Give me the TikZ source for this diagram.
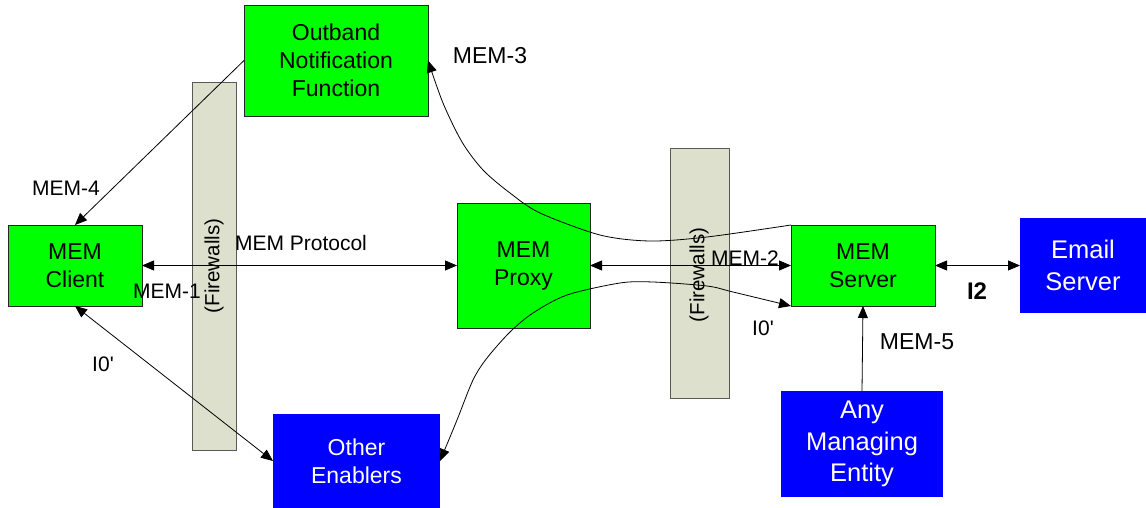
\documentclass[tikz,border=0pt]{standalone}
\usepackage{fontspec}
\setmainfont{Liberation Sans}
\usetikzlibrary{arrows.meta}
\definecolor{fwfill}{RGB}{221,224,204}
\definecolor{memgreen}{RGB}{0,255,0}
\definecolor{memblue}{RGB}{0,0,255}
\tikzset{
  box/.style={inner sep=0pt, outer sep=0pt, align=center, font=\fontsize{23}{28}\selectfont},
  greenbox/.style={box, fill=memgreen, draw=black!85, line width=0.8pt},
  bluebox/.style={box, fill=memblue, text=white},
  bigbluebox/.style={bluebox, font=\fontsize{25.5}{31.5}\selectfont},
  fwall/.style={inner sep=0pt, outer sep=0pt, fill=fwfill, draw=black!65, line width=0.8pt},
  fwtext/.style={rotate=90, font=\fontsize{20.5}{24}\selectfont},
  lbl/.style={font=\fontsize{21}{24}\selectfont, inner sep=0pt},
  biglbl/.style={font=\fontsize{23}{26}\selectfont, inner sep=0pt},
  conn/.style={line width=0.8pt, black},
  tip/.style={-{Triangle[length=12pt,width=10pt]}},
  tips/.style={{Triangle[length=12pt,width=10pt]}-{Triangle[length=12pt,width=10pt]}}
}
\begin{document}
\begin{tikzpicture}[x=1pt,y=-1pt]
\useasboundingbox (0,0) rectangle (1146,508);
% firewalls
\node[fwall, minimum width=44pt, minimum height=368pt] (fw1) at (214,266) {};
\node[fwtext] (fw1t) at (214,266) {(Firewalls)};
\node[fwall, minimum width=59pt, minimum height=250pt] (fw2) at (699.5,273) {};
\node[fwtext] (fw2t) at (699,275) {(Firewalls)};
% boxes
\node[greenbox, minimum width=184pt, minimum height=111pt] (outband) at (336,60.5) {Outband\\Notification\\Function};
\node[greenbox, minimum width=134pt, minimum height=81pt] (client) at (75,265.5) {MEM\\Client};
\node[greenbox, minimum width=133pt, minimum height=125pt] (proxy) at (523.5,265.5) {MEM\\Proxy};
\node[greenbox, minimum width=144pt, minimum height=81pt] (server) at (863,265.5) {MEM\\Server};
\node[bigbluebox, minimum width=126pt, minimum height=95pt] (email) at (1083,265.5) {Email\\Server};
\node[bigbluebox, minimum width=162pt, minimum height=106pt] (managing) at (862,444) {Any\\Managing\\Entity};
\node[bluebox, minimum width=167pt, minimum height=94pt] (other) at (356.5,461) {Other\\Enablers};
% connectors
\draw[conn, tip] (outband.west) -- (client.north);
\draw[conn, tips] (client.south) -- (other.west);
\draw[conn, tips] (client.east) -- (proxy.west);
\draw[conn, tips] (proxy.east) -- (server.west);
\draw[conn, tips] (server.east) -- (email.west);
\draw[conn, tip] (managing.north) -- (server.south);
\draw[conn, tip] plot[smooth, tension=0.5] coordinates {(server.north west) (707,237) (650,241) (600,235) (540,213) (510,193) (483,170) (462,142) (443,103) (outband.east)};
\draw[conn, tips] plot[smooth, tension=0.5] coordinates {(other.east) (457,420) (473,380) (487,358) (510,332) (533,313) (567,295) (620,283) (653,282) (707,286) (733,292) (server.south west)};
% labels
\node[biglbl] (l3) at (490,56) {MEM-3};
\node[lbl] (l4) at (66,188) {MEM-4};
\node[lbl] (l1) at (167,291) {MEM-1};
\node[lbl] (lp) at (301,243) {MEM Protocol};
\node[lbl] (l2) at (745,258) {MEM-2};
\node[lbl] (li0r) at (763,328) {I0\textquotesingle};
\node[lbl] (li0l) at (103,364) {I0\textquotesingle};
\node[font=\fontsize{24}{26}\selectfont\bfseries, inner sep=0pt] (li2) at (977,291) {I2};
\node[biglbl] (l5) at (917,342) {MEM-5};
\end{tikzpicture}
\end{document}
